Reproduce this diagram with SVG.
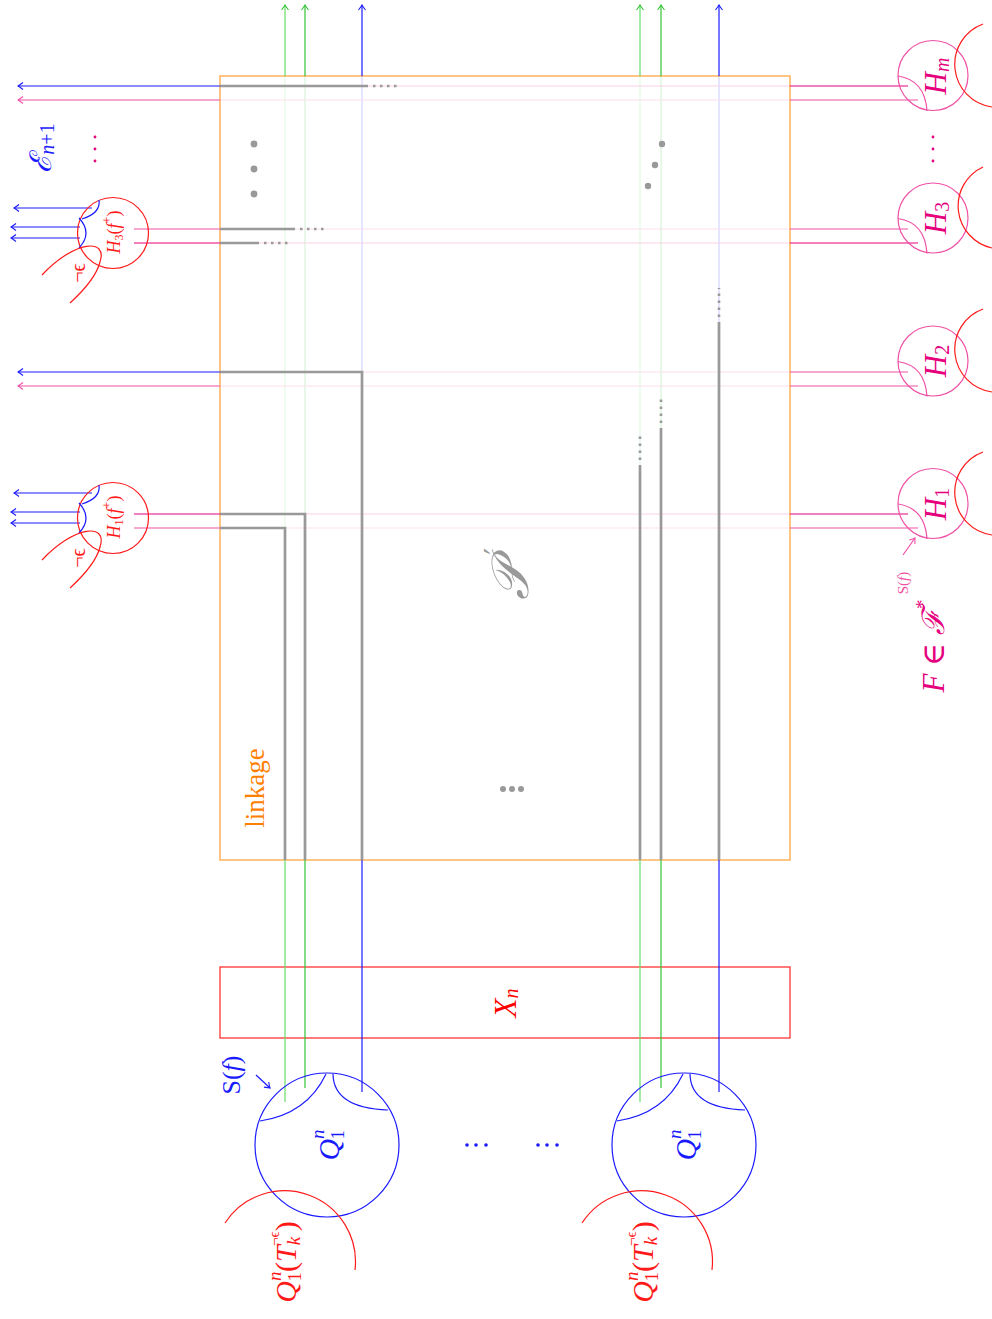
<svg xmlns="http://www.w3.org/2000/svg" width="992" height="1319" viewBox="0 0 992 1319">
<defs>
<style>
.t{font-family:"Liberation Serif","DejaVu Serif",serif;}
.i{font-style:italic;}
.bl{stroke:#1a1aff;fill:none;stroke-width:1.2;}
.gr{stroke:#33c433;fill:none;stroke-width:1.2;}
.gr2{stroke:#66dd66;fill:none;stroke-width:1.2;}
.pk{stroke:#e6007e;fill:none;stroke-width:1.2;}
.pk2{stroke:#f052a6;fill:none;stroke-width:1.2;}
.rd{stroke:#ff1a1a;fill:none;stroke-width:1.2;}
.faint{opacity:0.18;}
.gy{stroke:#999;fill:none;stroke-width:2.7;}
.gyd{stroke:#999;fill:none;stroke-width:2.6;stroke-dasharray:2.5 4.5;}
.gdot{fill:#999;}
</style>
<marker id="aB" viewBox="-6 -5 7 10" refX="0" refY="0" markerWidth="7" markerHeight="10" orient="auto" markerUnits="userSpaceOnUse"><path d="M-5,-3.5 Q-1.5,-0.8 0,0 Q-1.5,0.8 -5,3.5" fill="none" stroke="#1a1aff" stroke-width="1.1"/></marker>
<marker id="aG" viewBox="-6 -5 7 10" refX="0" refY="0" markerWidth="7" markerHeight="10" orient="auto" markerUnits="userSpaceOnUse"><path d="M-5,-3.5 Q-1.5,-0.8 0,0 Q-1.5,0.8 -5,3.5" fill="none" stroke="#33c433" stroke-width="1.1"/></marker>
<marker id="aP" viewBox="-6 -5 7 10" refX="0" refY="0" markerWidth="7" markerHeight="10" orient="auto" markerUnits="userSpaceOnUse"><path d="M-5,-3.5 Q-1.5,-0.8 0,0 Q-1.5,0.8 -5,3.5" fill="none" stroke="#f052a6" stroke-width="1.1"/></marker>
</defs>
<rect width="992" height="1319" fill="#fff"/>

<g id="linkage">
<rect x="220" y="76" width="570" height="784" fill="none" stroke="#ffa640" stroke-width="1.3"/>
<text class="t" transform="translate(255,788) rotate(-90)" text-anchor="middle" dominant-baseline="central" font-size="27" fill="#ff8000">linkage</text>
</g>

<g id="Xn">
<rect x="220" y="967" width="570" height="71" fill="none" stroke="#ff3333" stroke-width="1.3"/>
<text class="t i" transform="translate(505,1003) rotate(-90)" text-anchor="middle" dominant-baseline="central" font-size="31" fill="#ff0000">X<tspan font-size="20" dy="6">n</tspan></text>
</g>

<g id="connectors">
<g class="faint">
<line class="gr2" x1="285" y1="76" x2="285" y2="860"/>
<line class="gr" x1="305" y1="76" x2="305" y2="860"/>
<line class="bl" x1="362" y1="76" x2="362" y2="860"/>
<line class="gr2" x1="640" y1="76" x2="640" y2="860"/>
<line class="gr" x1="661" y1="76" x2="661" y2="860"/>
<line class="bl" x1="719" y1="76" x2="719" y2="860"/>
<line class="pk" x1="220" y1="86" x2="790" y2="86"/>
<line class="pk2" x1="220" y1="100" x2="790" y2="100"/>
<line class="pk2" x1="220" y1="229" x2="790" y2="229"/>
<line class="pk" x1="220" y1="243" x2="790" y2="243"/>
<line class="pk2" x1="220" y1="372" x2="790" y2="372"/>
<line class="pk2" x1="220" y1="386" x2="790" y2="386"/>
<line class="pk" x1="220" y1="514" x2="790" y2="514"/>
<line class="pk2" x1="220" y1="528" x2="790" y2="528"/>
</g>
<line class="gr2" x1="285" y1="76" x2="285" y2="5" marker-end="url(#aG)"/>
<line class="gr" x1="305" y1="76" x2="305" y2="5" marker-end="url(#aG)"/>
<line class="bl" x1="362" y1="76" x2="362" y2="5" marker-end="url(#aB)"/>
<line class="gr2" x1="640" y1="76" x2="640" y2="5" marker-end="url(#aG)"/>
<line class="gr" x1="661" y1="76" x2="661" y2="5" marker-end="url(#aG)"/>
<line class="bl" x1="719" y1="76" x2="719" y2="5" marker-end="url(#aB)"/>
<line class="gr2" x1="285" y1="860" x2="285" y2="1102"/>
<line class="gr" x1="305" y1="860" x2="305" y2="1088"/>
<line class="bl" x1="362" y1="860" x2="362" y2="1092"/>
<line class="gr2" x1="640" y1="860" x2="640" y2="1102"/>
<line class="gr" x1="661" y1="860" x2="661" y2="1088"/>
<line class="bl" x1="719" y1="860" x2="719" y2="1092"/>
<line class="bl" x1="220" y1="86" x2="18" y2="86" marker-end="url(#aB)"/>
<line class="pk2" x1="220" y1="100" x2="18" y2="100" marker-end="url(#aP)"/>
<line class="bl" x1="220" y1="372" x2="18" y2="372" marker-end="url(#aB)"/>
<line class="pk2" x1="220" y1="386" x2="18" y2="386" marker-end="url(#aP)"/>
<line class="pk2" x1="134" y1="229" x2="220" y2="229"/>
<line class="pk" x1="134" y1="243" x2="220" y2="243"/>
<line class="pk" x1="134" y1="514" x2="220" y2="514"/>
<line class="pk2" x1="134" y1="528" x2="220" y2="528"/>
<line class="bl" x1="92" y1="208" x2="14" y2="208" marker-end="url(#aB)"/>
<line class="bl" x1="80" y1="227" x2="11" y2="227" marker-end="url(#aB)"/>
<line class="bl" x1="80" y1="238" x2="11" y2="238" marker-end="url(#aB)"/>
<line class="bl" x1="92" y1="493" x2="14" y2="493" marker-end="url(#aB)"/>
<line class="bl" x1="80" y1="512" x2="11" y2="512" marker-end="url(#aB)"/>
<line class="bl" x1="80" y1="523" x2="11" y2="523" marker-end="url(#aB)"/>
<line class="pk" x1="790" y1="86" x2="908" y2="86"/>
<line class="pk2" x1="790" y1="100" x2="918" y2="100"/>
<line class="pk2" x1="790" y1="229" x2="908" y2="229"/>
<line class="pk" x1="790" y1="243" x2="918" y2="243"/>
<line class="pk2" x1="790" y1="372" x2="908" y2="372"/>
<line class="pk2" x1="790" y1="386" x2="918" y2="386"/>
<line class="pk" x1="790" y1="514" x2="908" y2="514"/>
<line class="pk2" x1="790" y1="528" x2="918" y2="528"/>
<line class="bl" x1="256" y1="1075" x2="270" y2="1088" marker-end="url(#aB)"/>
<line class="pk2" x1="903" y1="555" x2="915" y2="538" marker-end="url(#aP)"/>
</g>

<g id="P-prime">
<polyline class="gy" points="220,86 368,86"/>
<line class="gyd" x1="373" y1="86" x2="400" y2="86"/>
<polyline class="gy" points="220,229 295,229"/>
<line class="gyd" x1="300" y1="229" x2="327" y2="229"/>
<polyline class="gy" points="220,243 259,243"/>
<line class="gyd" x1="264" y1="243" x2="291" y2="243"/>
<polyline class="gy" points="220,372 362,372 362,860"/>
<polyline class="gy" points="220,514 305,514 305,860"/>
<polyline class="gy" points="220,528 285,528 285,860"/>
<polyline class="gy" points="640,860 640,465"/>
<line class="gyd" x1="640" y1="460" x2="640" y2="433"/>
<polyline class="gy" points="661,860 661,428"/>
<line class="gyd" x1="661" y1="423" x2="661" y2="396"/>
<polyline class="gy" points="719,860 719,322"/>
<line class="gyd" x1="719" y1="317" x2="719" y2="288"/>
<circle class="gdot" cx="254" cy="144" r="3.4"/>
<circle class="gdot" cx="254" cy="169" r="3.4"/>
<circle class="gdot" cx="254" cy="194" r="3.4"/>
<circle class="gdot" cx="662" cy="144" r="3.2"/>
<circle class="gdot" cx="655" cy="165" r="3.2"/>
<circle class="gdot" cx="648" cy="186" r="3.2"/>
<circle class="gdot" cx="503" cy="789" r="3"/>
<circle class="gdot" cx="512" cy="789" r="3"/>
<circle class="gdot" cx="521" cy="789" r="3"/>
<text class="t i" transform="translate(510,581) rotate(-90)" text-anchor="middle" dominant-baseline="central" font-size="52" fill="#999">𝒫</text>
<text transform="translate(495,551) rotate(-90)" text-anchor="middle" dominant-baseline="central" font-family="DejaVu Sans, sans-serif" font-size="30" fill="#999">′</text>
</g>

<g id="Q1-left">
<circle class="bl" cx="327" cy="1145" r="72"/>
<path class="bl" d="M326,1074 Q307,1114 260,1121"/>
<path class="bl" d="M333,1074 Q333.5,1108 388,1110"/>
<path class="rd" d="M225,1223 A71 71 0 0 1 355,1270"/>
<text class="t i" transform="translate(328,1145) rotate(-90)" text-anchor="middle" dominant-baseline="central" font-size="30" fill="#1a1aff">Q<tspan font-size="19" dy="-11">n</tspan><tspan font-size="19" dx="-10" dy="20" font-style="normal">1</tspan></text>
<text class="t i" transform="translate(285,1262) rotate(-90)" text-anchor="middle" dominant-baseline="central" font-size="30" fill="#ff1a1a">Q<tspan font-size="19" dy="-11">n</tspan><tspan font-size="19" dx="-10" dy="20" font-style="normal">1</tspan><tspan dy="-9" font-style="normal">(</tspan>T<tspan font-size="19" dy="8">k</tspan><tspan font-size="15" dx="-9" dy="-19" font-style="normal">¬ϵ</tspan><tspan dy="11" font-style="normal">)</tspan></text>
<text class="t" transform="translate(231,1075) rotate(-90)" text-anchor="middle" dominant-baseline="central" font-size="26" fill="#1a1aff">S(<tspan font-style="italic">f</tspan>)</text>
</g>
<g id="Q1-right">
<circle class="bl" cx="684" cy="1145" r="72"/>
<path class="bl" d="M683,1074 Q664,1114 617,1121"/>
<path class="bl" d="M690,1074 Q690.5,1108 745,1110"/>
<path class="rd" d="M582,1223 A71 71 0 0 1 712,1270"/>
<text class="t i" transform="translate(685,1145) rotate(-90)" text-anchor="middle" dominant-baseline="central" font-size="30" fill="#1a1aff">Q<tspan font-size="19" dy="-11">n</tspan><tspan font-size="19" dx="-10" dy="20" font-style="normal">1</tspan></text>
<text class="t i" transform="translate(642,1262) rotate(-90)" text-anchor="middle" dominant-baseline="central" font-size="30" fill="#ff1a1a">Q<tspan font-size="19" dy="-11">n</tspan><tspan font-size="19" dx="-10" dy="20" font-style="normal">1</tspan><tspan dy="-9" font-style="normal">(</tspan>T<tspan font-size="19" dy="8">k</tspan><tspan font-size="15" dx="-9" dy="-19" font-style="normal">¬ϵ</tspan><tspan dy="11" font-style="normal">)</tspan></text>
</g>
<g id="Q-dots" fill="#1a1aff">
<circle cx="467" cy="1145" r="1.8"/><circle cx="476" cy="1145" r="1.8"/><circle cx="486" cy="1145" r="1.8"/>
<circle cx="538" cy="1145" r="1.8"/><circle cx="547" cy="1145" r="1.8"/><circle cx="557" cy="1145" r="1.8"/>
</g>

<g id="E">
<text class="t i" transform="translate(40,148) rotate(-90)" text-anchor="middle" dominant-baseline="central" font-size="30" fill="#1a1aff">ℰ<tspan font-size="20" dy="7" font-style="normal"><tspan font-style="italic">n</tspan>+1</tspan></text>
<g fill="#e6007e"><circle cx="95" cy="137" r="1.4"/><circle cx="95" cy="149" r="1.4"/><circle cx="95" cy="161" r="1.4"/></g>
</g>

<g id="H3f">
<circle class="rd" cx="113" cy="233" r="35.5"/>
<path class="bl" d="M82,219 Q101,213 99,200"/>
<path class="bl" d="M79,218 Q93,233 79,248"/>
<path class="rd" d="M42,275 C75,240 108,238 100,262 C96,278 82,292 70,303"/>
<text class="t i" transform="translate(114,232) rotate(-90)" text-anchor="middle" dominant-baseline="central" font-size="18" fill="#ff1a1a">H<tspan font-size="12" dy="5" font-style="normal">3</tspan><tspan dy="-5" font-style="normal">(</tspan>f<tspan font-size="12" dy="-7" font-style="normal">+</tspan><tspan dy="7" font-style="normal">)</tspan></text>
<text class="t" transform="translate(78,273) rotate(-90)" text-anchor="middle" dominant-baseline="central" font-size="20" fill="#ff1a1a">¬ϵ</text>
</g>
<g id="H1f">
<circle class="rd" cx="113" cy="518" r="35.5"/>
<path class="bl" d="M82,504 Q101,498 99,485"/>
<path class="bl" d="M79,503 Q93,518 79,533"/>
<path class="rd" d="M42,560 C75,525 108,523 100,547 C96,563 82,577 70,588"/>
<text class="t i" transform="translate(114,517) rotate(-90)" text-anchor="middle" dominant-baseline="central" font-size="18" fill="#ff1a1a">H<tspan font-size="12" dy="5" font-style="normal">1</tspan><tspan dy="-5" font-style="normal">(</tspan>f<tspan font-size="12" dy="-7" font-style="normal">+</tspan><tspan dy="7" font-style="normal">)</tspan></text>
<text class="t" transform="translate(78,558) rotate(-90)" text-anchor="middle" dominant-baseline="central" font-size="20" fill="#ff1a1a">¬ϵ</text>
</g>

<g id="Hm">
<circle class="pk2" cx="933" cy="75.5" r="35"/>
<path class="pk2" d="M898,76 Q925,80 927,111"/>
<path class="rd" d="M983,24 A43 43 0 0 0 992,107"/>
<text class="t i" transform="translate(935,76) rotate(-90)" text-anchor="middle" dominant-baseline="central" font-size="31" fill="#e6007e">H<tspan font-size="20" dy="7">m</tspan></text>
</g>
<g fill="#e6007e"><circle cx="933" cy="137" r="1.4"/><circle cx="933" cy="149" r="1.4"/><circle cx="933" cy="161" r="1.4"/></g>
<g id="H3">
<circle class="pk2" cx="933" cy="218" r="35"/>
<path class="pk2" d="M898,218.5 Q925,222.5 927,253.5"/>
<path class="rd" d="M983,167 A43 43 0 0 0 992,248"/>
<text class="t i" transform="translate(935,218) rotate(-90)" text-anchor="middle" dominant-baseline="central" font-size="31" fill="#e6007e">H<tspan font-size="20" dy="7" font-style="normal">3</tspan></text>
</g>
<g id="H2">
<circle class="pk2" cx="933" cy="361" r="35"/>
<path class="pk2" d="M898,361.5 Q925,365.5 927,396.5"/>
<path class="rd" d="M983,309 A43 43 0 0 0 992,392"/>
<text class="t i" transform="translate(935,361) rotate(-90)" text-anchor="middle" dominant-baseline="central" font-size="31" fill="#e6007e">H<tspan font-size="20" dy="7" font-style="normal">2</tspan></text>
</g>
<g id="H1">
<circle class="pk2" cx="933" cy="503.5" r="35"/>
<path class="pk2" d="M898,504 Q925,508 927,539"/>
<path class="rd" d="M983,452 A43 43 0 0 0 992,535"/>
<text class="t i" transform="translate(935,504) rotate(-90)" text-anchor="middle" dominant-baseline="central" font-size="31" fill="#e6007e">H<tspan font-size="20" dy="7" font-style="normal">1</tspan></text>
</g>
<g id="F-label">
<text class="t" transform="translate(903,583) rotate(-90)" text-anchor="middle" dominant-baseline="central" font-size="15" fill="#f052a6">S(<tspan font-style="italic">f</tspan>)</text>
<text class="t i" transform="translate(933,646) rotate(-90)" text-anchor="middle" dominant-baseline="central" font-size="31" fill="#e6007e">F ∈ ℱ<tspan font-size="19" dy="-11" font-style="normal">*</tspan></text>
</g>
</svg>
